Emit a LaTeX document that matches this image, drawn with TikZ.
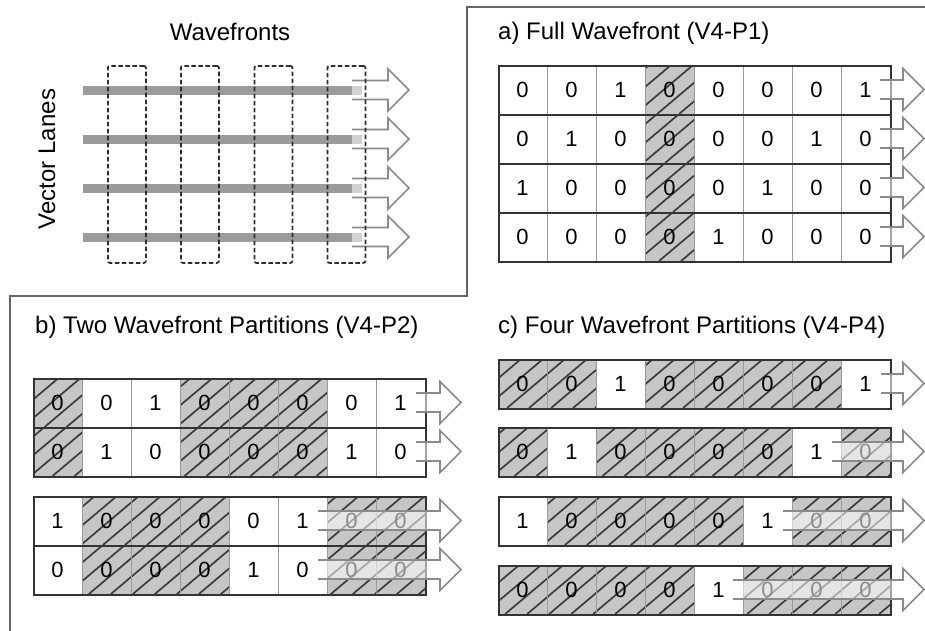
\documentclass[tikz,border=0pt]{standalone}
\usepackage{fontspec}
\setmainfont{Liberation Sans}
\usetikzlibrary{calc}
\definecolor{framec}{HTML}{666666}
\definecolor{hatchfill}{HTML}{C6C6C6}
\definecolor{hatchline}{HTML}{3C3C3C}
\definecolor{rowline}{HTML}{333333}
\definecolor{sepline}{HTML}{9A9A9A}
\definecolor{lanebar}{HTML}{9B9B9B}
\definecolor{arrowc}{HTML}{8A8A8A}
\definecolor{dashc}{HTML}{2E2E2E}
\tikzset{
  ttl/.style={font=\fontsize{24}{28}\selectfont, inner sep=0pt},
  digit/.style={font=\fontsize{22}{26}\selectfont, inner sep=0pt},
  rowbox/.style={draw=rowline, line width=2.2pt, inner sep=0pt, minimum width=392pt, minimum height=49pt, anchor=north west},
  colsep/.style={draw=sepline, line width=1pt},
  hatchstroke/.style={draw=hatchline, line width=1.7pt},
  fatarrow/.style={draw=arrowc, line width=1.6pt, fill=white, fill opacity=0.55, line join=miter},
  wavebox/.style={draw=dashc, dash pattern=on 4.5pt off 2.5pt, line width=1.8pt, rounded corners=2pt, inner sep=0pt, minimum width=38pt, minimum height=197pt, anchor=north west},
  lane/.style={draw=lanebar, line width=9pt},
  framestyle/.style={draw=framec, line width=2pt},
}
% #1 name, #2 x0, #3 y0 (top), #4 list digit/hatch
\newcommand{\vrow}[4]{%
  \foreach \d/\h [count=\i from 0] in {#4} {
    \pgfmathsetmacro\cx{#2+49*\i}
    \ifnum\h=1
      \fill[hatchfill] (\cx,#3) rectangle ++(49,49);
      \begin{scope}
        \clip (\cx,#3) rectangle ++(49,49);
        \pgfmathsetmacro\mst{floor((\cx-58+(#3+49)*1.1837)/22)}
        \foreach \m in {0,...,5} {
          \pgfmathsetmacro\hx{22*(\mst+\m)-(#3+49)*1.1837}
          \draw[hatchstroke] (\hx,#3+49) -- ++(58,-49);
        }
      \end{scope}
    \else
      \fill[white] (\cx,#3) rectangle ++(49,49);
    \fi
    \node[digit] (#1-\i) at (\cx+24.5,#3+24.5) {\d};
  }
  \foreach \j in {1,...,7} \draw[colsep] ({#2+49*\j},#3) -- ++(0,49);
  \node[rowbox] (#1) at (#2,#3) {};
}
% #1 name, #2 start point, #3 shaft length
\newcommand{\fatarr}[3]{%
  \coordinate (#1) at #2;
  \draw[fatarrow] ($(#1)+(0,-9.5)$) -- ++(#3,0) -- ++(0,-11.5) -- ++(21,21) -- ++(-21,21) -- ++(0,-11.5) -- ++(-#3,0);
}
\begin{document}
\begin{tikzpicture}[x=1pt,y=-1pt]
\useasboundingbox (0,0) rectangle (925,630);
% frame
\coordinate (f1) at (10,631);
\coordinate (f2) at (10,296);
\coordinate (f3) at (467,296);
\coordinate (f4) at (467,7);
\coordinate (f5) at (926,7);
\draw[framestyle] (f1) -- (f2) -- (f3) -- (f4) -- (f5);

% ---- Wavefronts panel
\node[ttl, anchor=base] (wtitle) at (230,40) {Wavefronts};
\node[ttl, rotate=90] (vlanes) at (47,159) {Vector Lanes};
\foreach \yy [count=\k] in {90,139,188,237} {
  \coordinate (ls\k) at (83,\yy);
  \coordinate (le\k) at (362,\yy);
  \draw[lane] (ls\k) -- (le\k);
}
\foreach \yy [count=\k] in {90,139,188,237} {
  \fatarr{wa\k}{(352,\yy)}{36}
}
\node[wavebox] (wf1) at (107,65) {};
\node[wavebox] (wf2) at (180,65) {};
\node[wavebox] (wf3) at (253.5,65) {};
\node[wavebox] (wf4) at (326.5,65) {};

% ---- a) Full Wavefront
\node[ttl, anchor=base west] (atitle) at (498,39) {a) Full Wavefront (V4-P1)};
\vrow{a1}{498}{65}{0/0,0/0,1/0,0/1,0/0,0/0,0/0,1/0}
\vrow{a2}{498}{114}{0/0,1/0,0/0,0/1,0/0,0/0,1/0,0/0}
\vrow{a3}{498}{163}{1/0,0/0,0/0,0/1,0/0,1/0,0/0,0/0}
\vrow{a4}{498}{212}{0/0,0/0,0/0,0/1,1/0,0/0,0/0,0/0}
\fatarr{aa1}{(880,89.5)}{23}
\fatarr{aa2}{(880,138.5)}{23}
\fatarr{aa3}{(880,187.5)}{23}
\fatarr{aa4}{(880,236.5)}{23}

% ---- b) Two Wavefront Partitions
\node[ttl, anchor=base west] (btitle) at (35,333) {b) Two Wavefront Partitions (V4-P2)};
\vrow{b1}{33}{378}{0/1,0/0,1/0,0/1,0/1,0/1,0/0,1/0}
\vrow{b2}{33}{427}{0/1,1/0,0/0,0/1,0/1,0/1,1/0,0/0}
\vrow{b3}{33}{496}{1/0,0/1,0/1,0/1,0/0,1/0,0/1,0/1}
\vrow{b4}{33}{545}{0/0,0/1,0/1,0/1,1/0,0/0,0/1,0/1}
\fatarr{ba1}{(416,402.5)}{24}
\fatarr{ba2}{(416,451.5)}{24}
\fatarr{ba3}{(318,520.5)}{122}
\fatarr{ba4}{(318,569.5)}{122}

% ---- c) Four Wavefront Partitions
\node[ttl, anchor=base west] (ctitle) at (498,333) {c) Four Wavefront Partitions (V4-P4)};
\vrow{c1}{498}{359}{0/1,0/1,1/0,0/1,0/1,0/1,0/1,1/0}
\vrow{c2}{498}{427}{0/1,1/0,0/1,0/1,0/1,0/1,1/0,0/1}
\vrow{c3}{498}{496}{1/0,0/1,0/1,0/1,0/1,1/0,0/1,0/1}
\vrow{c4}{498}{565}{0/1,0/1,0/1,0/1,1/0,0/1,0/1,0/1}
\fatarr{ca1}{(881,383.5)}{22}
\fatarr{ca2}{(832,451.5)}{71}
\fatarr{ca3}{(783,520.5)}{120}
\fatarr{ca4}{(733,589.5)}{170}
\end{tikzpicture}
\end{document}
